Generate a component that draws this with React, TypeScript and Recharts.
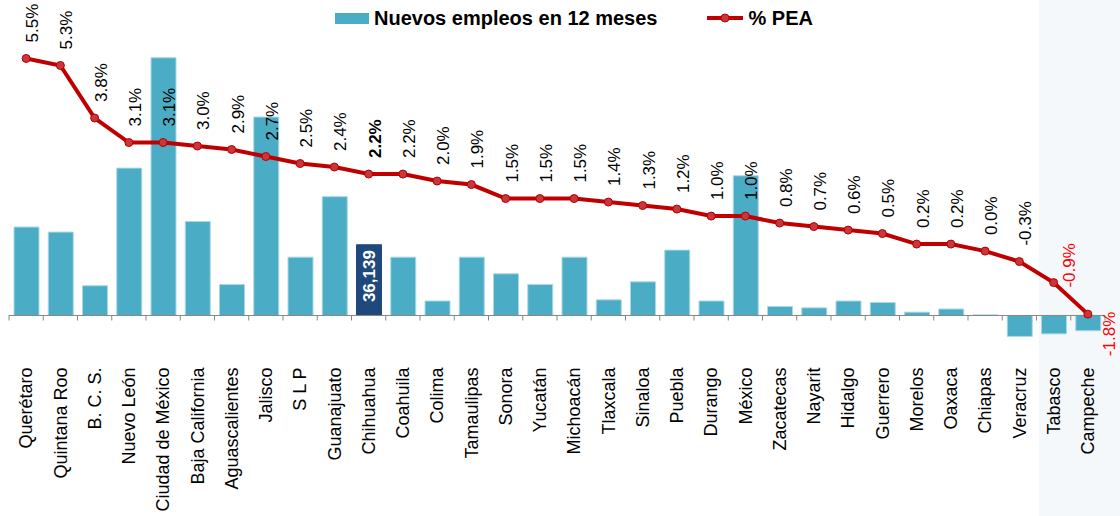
import React from 'react';
import {
  ComposedChart,
  Bar,
  Line,
  XAxis,
  YAxis,
  Legend,
  ReferenceLine,
  Cell,
  LabelList,
} from 'recharts';

// Entidades, ordered by % PEA
const states = [
  'Querétaro', 'Quintana Roo', 'B. C. S.', 'Nuevo León', 'Ciudad de México',
  'Baja California', 'Aguascalientes', 'Jalisco', 'S L P', 'Guanajuato',
  'Chihuahua', 'Coahuila', 'Colima', 'Tamaulipas', 'Sonora', 'Yucatán',
  'Michoacán', 'Tlaxcala', 'Sinaloa', 'Puebla', 'Durango', 'México',
  'Zacatecas', 'Nayarit', 'Hidalgo', 'Guerrero', 'Morelos', 'Oaxaca',
  'Chiapas', 'Veracruz', 'Tabasco', 'Campeche',
];

// Nuevos empleos en 12 meses (Chihuahua labelled)
const newJobs = [
  45200, 42600, 15200, 75300, 131700,
  48000, 15800, 101400, 29800, 60700,
  36139, 29800, 7400, 29800, 21300, 15800,
  29800, 8000, 17200, 33400, 7400, 71400,
  4600, 3900, 7400, 6600, 1700, 3300,
  300, -10700, -9400, -7800,
];

// % PEA
const peaPct = [
  5.5, 5.3, 3.8, 3.1, 3.1,
  3.0, 2.9, 2.7, 2.5, 2.4,
  2.2, 2.2, 2.0, 1.9, 1.5, 1.5,
  1.5, 1.4, 1.3, 1.2, 1.0, 1.0,
  0.8, 0.7, 0.6, 0.5, 0.2, 0.2,
  0.0, -0.3, -0.9, -1.8,
];

const HIGHLIGHT = 'Chihuahua';

const data = states.map((state, i) => ({
  state,
  jobs: newJobs[i],
  pea: peaPct[i],
}));

const W = 1120;
const H = 516;
const MARGIN = { top: 0, right: 15, bottom: 0, left: 9 };
const LEGEND_H = 28;
const X_AXIS_H = 170;
const JOBS_DOMAIN: [number, number] = [-15600, 146900];
const PEA_DOMAIN: [number, number] = [-2.71, 6.37];

const PLOT_TOP = MARGIN.top + LEGEND_H;
const PLOT_H = H - MARGIN.bottom - X_AXIS_H - PLOT_TOP;
const ZERO_Y = PLOT_TOP + (PLOT_H * JOBS_DOMAIN[1]) / (JOBS_DOMAIN[1] - JOBS_DOMAIN[0]);
const BAND = (W - MARGIN.left - MARGIN.right) / states.length;

const BAR_COLOR = '#4BACC6';
const HIGHLIGHT_COLOR = '#1F497D';
const LINE_COLOR = '#C00000';
const AXIS_COLOR = '#868686';
const FONT = '"Liberation Sans", Arial, sans-serif';

function StateTick(props: any) {
  const { x, payload } = props;
  const half = BAND / 2;
  const ty = ZERO_Y + 52;
  const isLast = payload.value === states[states.length - 1];
  return (
    <g>
      <line x1={x - half} x2={x - half} y1={ZERO_Y} y2={ZERO_Y + 5} stroke={AXIS_COLOR} />
      {isLast && (
        <line x1={x + half} x2={x + half} y1={ZERO_Y} y2={ZERO_Y + 5} stroke={AXIS_COLOR} />
      )}
      <text
        x={x}
        y={ty}
        dy="0.35em"
        transform={`rotate(-90 ${x} ${ty})`}
        textAnchor="end"
        fontFamily={FONT}
        fontSize={18}
        fill="#000"
      >
        {payload.value}
      </text>
    </g>
  );
}

function PeaLabel(props: any) {
  const { x, y, value, index } = props;
  const n = states.length;
  let bx = x + 12;
  let sy = y - 16;
  if (index === n - 1) {
    // last label sits to the right of its point, against the edge
    bx = x + 27;
    sy = y + 42;
  } else if (index === n - 2) {
    bx = x + 21;
    sy = y + 5;
  }
  const red = value <= -0.9;
  const bold = states[index] === HIGHLIGHT;
  return (
    <text
      x={bx}
      y={sy}
      transform={`rotate(-90 ${bx} ${sy})`}
      textAnchor="start"
      fontFamily={FONT}
      fontSize={17}
      fontWeight={bold ? 700 : 400}
      fill={red ? '#FF0000' : '#000'}
    >
      {`${Number(value).toFixed(1)}%`}
    </text>
  );
}

function JobsLabel(props: any) {
  const { x, y, width, height, value, index } = props;
  if (states[index] !== HIGHLIGHT) return null;
  const cx = x + width / 2;
  const cy = y + height / 2 - 4;
  return (
    <text
      x={cx}
      y={cy}
      dy="0.35em"
      transform={`rotate(-90 ${cx} ${cy})`}
      textAnchor="middle"
      fontFamily={FONT}
      fontSize={17}
      fontWeight={700}
      fill="#fff"
    >
      {Number(value).toLocaleString('en-US')}
    </text>
  );
}

const renderLegend = () => (
  <div
    style={{
      height: LEGEND_H,
      boxSizing: 'border-box',
      paddingTop: 8,
      paddingLeft: 335,
      display: 'flex',
      alignItems: 'center',
      fontFamily: FONT,
      fontWeight: 700,
      fontSize: 20,
      lineHeight: '20px',
      color: '#000',
      whiteSpace: 'nowrap',
    }}
  >
    <span style={{ display: 'inline-block', width: 34, height: 11, background: BAR_COLOR }} />
    <span style={{ marginLeft: 5 }}>Nuevos empleos en 12 meses</span>
    <svg width={36} height={12} style={{ marginLeft: 50 }}>
      <line x1={0} x2={36} y1={6} y2={6} stroke={LINE_COLOR} strokeWidth={4} />
      <circle cx={18} cy={6} r={4} fill="#C9373C" stroke="#B40000" strokeWidth={1} />
    </svg>
    <span style={{ marginLeft: 5 }}>% PEA</span>
  </div>
);

export default function App() {
  return (
    <div style={{ position: 'fixed', left: 0, top: 0, width: W, height: H, background: '#fff' }}>
      {/* shaded panel behind the last two states */}
      <div
        style={{ position: 'absolute', left: 1039, top: 0, width: W - 1039, height: H, background: '#F5F8FA' }}
      />
      <div style={{ position: 'absolute', left: 0, top: 0 }}>
        <ComposedChart width={W} height={H} data={data} margin={MARGIN}>
          <XAxis
            dataKey="state"
            xAxisId={0}
            height={X_AXIS_H}
            interval={0}
            tickLine={false}
            axisLine={false}
            tick={<StateTick />}
          />
          <YAxis yAxisId="jobs" domain={JOBS_DOMAIN} hide />
          <YAxis yAxisId="pea" orientation="right" domain={PEA_DOMAIN} hide />
          <Legend verticalAlign="top" content={renderLegend} wrapperStyle={{ top: 0, left: 0, width: W }} />
          <ReferenceLine yAxisId="jobs" y={0} stroke={AXIS_COLOR} strokeWidth={1} />
          <Bar
            yAxisId="jobs"
            dataKey="jobs"
            name="Nuevos empleos en 12 meses"
            barSize={25}
            fill={BAR_COLOR}
            stroke="#A9D8E4"
            strokeWidth={1}
            isAnimationActive={false}
          >
            {data.map((d) => (
              <Cell
                key={d.state}
                fill={d.state === HIGHLIGHT ? HIGHLIGHT_COLOR : BAR_COLOR}
                stroke={d.state === HIGHLIGHT ? HIGHLIGHT_COLOR : '#A9D8E4'}
              />
            ))}
            <LabelList dataKey="jobs" content={<JobsLabel />} />
          </Bar>
          <Line
            yAxisId="pea"
            type="linear"
            dataKey="pea"
            name="% PEA"
            stroke={LINE_COLOR}
            strokeWidth={4}
            dot={{ r: 4, fill: '#C9373C', stroke: '#B40000', strokeWidth: 1 }}
            activeDot={false}
            isAnimationActive={false}
          >
            <LabelList dataKey="pea" content={<PeaLabel />} />
          </Line>
        </ComposedChart>
      </div>
    </div>
  );
}
